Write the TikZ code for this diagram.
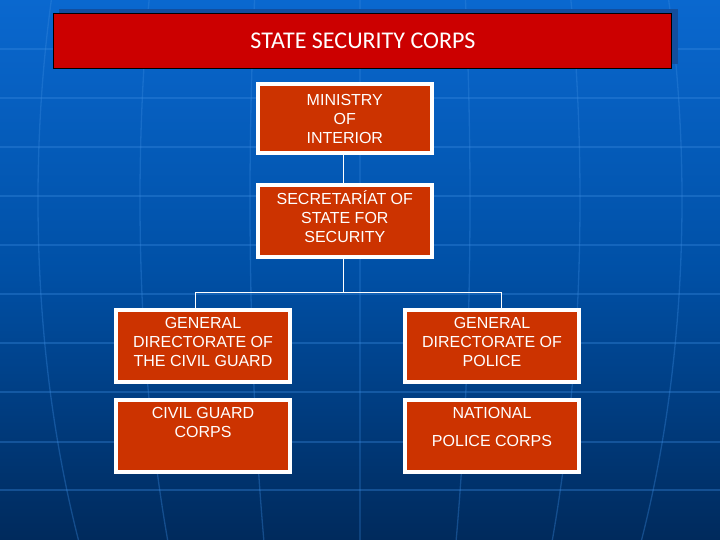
\documentclass[tikz,border=0pt]{standalone}
\usepackage{fontspec}
\setmainfont{Liberation Sans}
\newfontfamily\titlefont{Carlito}
\usetikzlibrary{calc}
\definecolor{bgtop}{HTML}{0A68CF}
\definecolor{bgmid}{HTML}{0050A6}
\definecolor{bgbot}{HTML}{002A5C}
\definecolor{gridc}{HTML}{3A8BE0}
\definecolor{titlered}{HTML}{CC0000}
\definecolor{shadowblue}{HTML}{124E9E}
\definecolor{boxred}{HTML}{CC3300}
\tikzset{
  orgbox/.style={draw=white, line width=4pt, fill=boxred, minimum width=174pt, inner sep=0pt},
  lbl/.style={text=white, align=center, inner sep=0pt, font=\fontsize{16}{19}\selectfont},
  link/.style={draw=white, line width=1pt},
  gridline/.style={draw=gridc, line width=1.3pt, opacity=0.35}
}
\begin{document}
\begin{tikzpicture}[x=1pt,y=-1pt]
\useasboundingbox (0,0) rectangle (720,540);
% background
\shade[top color=bgtop, bottom color=bgbot, middle color=bgmid] (0,0) rectangle (720,540);
\begin{scope}
\clip (0,0) rectangle (720,540);
\foreach \yy in {49,98,147,196,245,294,343,392,442,490}
  \draw[gridline] (0,\yy) -- (720,\yy);
\foreach \rx in {110,220,322,430}
  \draw[gridline] (360,200) ellipse [x radius=\rx, y radius=700];
\draw[gridline, opacity=0.25] (360,-50) -- (360,540);
\end{scope}
% title
\fill[shadowblue] (59,9) rectangle (678,64);
\node[draw=black, line width=1pt, fill=titlered, minimum width=618pt, minimum height=55pt, inner sep=0pt] (title) at (362,41.5) {};
\node[text=white, inner sep=0pt, font=\titlefont\fontsize{24}{27}\selectfont] (titletxt) at (363,41) {STATE SECURITY CORPS};
% boxes
\node[orgbox, minimum height=69pt] (min) at (344.8,118.5) {};
\node[orgbox, minimum height=71pt] (sec) at (344.8,221) {};
\node[orgbox, minimum height=72pt] (gdcg) at (203,346) {};
\node[orgbox, minimum height=72pt] (gdp) at (492,346) {};
\node[orgbox, minimum height=72pt] (cgc) at (203,436) {};
\node[orgbox, minimum height=72pt] (npc) at (492,436) {};
% labels
\node[lbl] (minl) at (344.8,118.5) {MINISTRY\\OF\\INTERIOR};
\node[lbl] (secl) at (344.8,216.5) {SECRETARÍAT OF\\STATE FOR\\SECURITY};
\node[lbl] (gdcgl) at (203,341.5) {GENERAL\\DIRECTORATE OF\\THE CIVIL GUARD};
\node[lbl] (gdpl) at (492,341.5) {GENERAL\\DIRECTORATE OF\\POLICE};
\node[lbl] (cgcl) at (203,422.5) {CIVIL GUARD\\CORPS};
\node[lbl] (npcl) at (492,427) {NATIONAL\\[9pt]POLICE CORPS};
% connectors
\coordinate (junc) at (343,292.3);
\coordinate (jl) at (195.7,292.3);
\coordinate (jr) at (501.7,292.3);
\draw[link] (min.south -| junc) -- (sec.north -| junc);
\draw[link] (sec.south -| junc) -- (junc);
\draw[link] (jl |- gdcg.north) -- (jl) -- (jr) -- (jr |- gdp.north);
\end{tikzpicture}
\end{document}
